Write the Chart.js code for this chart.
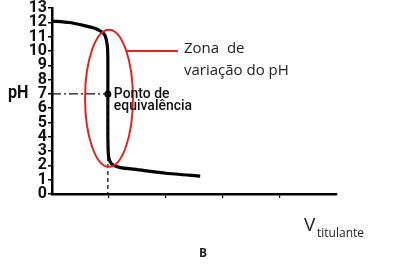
<!DOCTYPE html>
<html><head><meta charset="utf-8">
<script src="https://cdn.jsdelivr.net/npm/chart.js@4.4.1/dist/chart.umd.min.js"></script>
<style>html,body{margin:0;padding:0;background:#fff}#wrap{width:398px;height:265px}</style>
</head><body><div id="wrap"><canvas id="c"></canvas></div>
<script>
const volume = [0, 0.3, 0.55, 0.75, 0.87, 0.93, 0.97, 0.98, 0.98, 0.98, 0.99, 1.02, 1.08, 1.2, 1.5, 2.0, 2.6];
const pH     = [12.1, 12.0, 11.8, 11.6, 11.35, 11.1, 10.4, 9.5, 7.0, 4.0, 2.7, 2.25, 2.0, 1.85, 1.7, 1.45, 1.25];
const equivalence = {v: 0.98, pH: 7};
const yTicks = [0,1,2,3,4,5,6,7,8,9,10,11,12,13];
const xTicks = [1,2,3,4];
const zone = {v: 1.0, pH: 6.7, rv: 0.42, rpH: 4.8};
const zoneLabel = ["Zona  de", "variação do pH"];
const eqLabel = ["Ponto de", "equivalência"];

const curve = volume.map((v,i)=>({x:v, y:pH[i]}));

function narrowText(ctx, text, x, y, sx){
  ctx.save(); ctx.translate(x, y); ctx.scale(sx, 1); ctx.fillText(text, 0, 0); ctx.restore();
}

const overlay = {
  id:'overlay',
  afterDatasetsDraw(chart){
    const ctx = chart.ctx, xs = chart.scales.x, ys = chart.scales.y;
    const cx = xs.getPixelForValue(zone.v), cy = ys.getPixelForValue(zone.pH);
    const rx = xs.getPixelForValue(zone.v + zone.rv) - cx;
    const ry = ys.getPixelForValue(zone.pH) - ys.getPixelForValue(zone.pH + zone.rpH);
    ctx.save();
    ctx.strokeStyle = '#e3231f'; ctx.lineWidth = 2;
    ctx.beginPath(); ctx.ellipse(cx, cy, rx, ry, 0, 0, Math.PI*2); ctx.stroke();
    const ly = 51;
    const t = (ly - cy)/ry;
    const lx = cx + rx*Math.sqrt(1 - t*t);
    ctx.beginPath(); ctx.moveTo(lx, ly); ctx.lineTo(178, ly); ctx.stroke();
    ctx.fillStyle = '#222';
    ctx.font = '15px "Open Sans", "Liberation Sans", sans-serif';
    ctx.textBaseline = 'alphabetic'; ctx.textAlign = 'left';
    ctx.fillText(zoneLabel[0], 184, 53);
    ctx.fillText(zoneLabel[1], 184, 75);
    const ex = xs.getPixelForValue(equivalence.v), ey = ys.getPixelForValue(equivalence.pH);
    ctx.fillStyle = '#111';
    ctx.font = '500 15px Roboto, sans-serif';
    narrowText(ctx, eqLabel[0], ex + 6, ey + 4, 0.93);
    narrowText(ctx, eqLabel[1], ex + 6, ey + 16, 0.93);
    ctx.font = 'bold 18px Roboto, sans-serif';
    narrowText(ctx, 'pH', 8, 98, 0.9);
    ctx.font = '19px "Open Sans", "Liberation Sans", sans-serif';
    ctx.fillStyle = '#222';
    ctx.fillText('V', 304, 231);
    ctx.font = '12px "Open Sans", "Liberation Sans", sans-serif';
    ctx.fillText('titulante', 317, 237);
    ctx.font = 'bold 12px "Open Sans", "Liberation Sans", sans-serif';
    ctx.fillText('B', 199, 257);
    ctx.restore();
  }
};

new Chart(document.getElementById('c'), {
  type:'scatter',
  data:{datasets:[
    {data:[{x:0,y:equivalence.pH},{x:equivalence.v,y:equivalence.pH}], showLine:true, borderColor:'#111', borderWidth:1.3, borderDash:[9,3,2,3], pointRadius:0},
    {data:[{x:equivalence.v,y:equivalence.pH},{x:equivalence.v,y:0}], showLine:true, borderColor:'#111', borderWidth:1.3, borderDash:[4,3], pointRadius:0},
    {data:curve, showLine:true, borderColor:'#000', borderWidth:3.2, tension:0.2, pointRadius:0},
    {data:[{x:equivalence.v,y:equivalence.pH}], pointRadius:3.5, pointBackgroundColor:'#000', pointBorderWidth:0}
  ]},
  options:{
    responsive:true, maintainAspectRatio:false, animation:false,
    layout:{padding:{top:6,right:61,left:0,bottom:0}},
    plugins:{legend:{display:false}, tooltip:{enabled:false}},
    scales:{
      x:{type:'linear', min:0, max:5,
        afterBuildTicks(s){ s.ticks = xTicks.map(v=>({value:v})); },
        afterFit(s){ s.height = 71; },
        ticks:{display:false},
        grid:{drawOnChartArea:false, drawTicks:true, tickLength:4, color:'#000', lineWidth:1.2},
        border:{color:'#000', width:2.5}},
      y:{type:'linear', min:0, max:13,
        afterBuildTicks(s){ s.ticks = yTicks.map(v=>({value:v})); },
        afterFit(s){ s.width = 52; },
        ticks:{color:'#111', padding:1, autoSkip:false, font:{family:'Roboto, sans-serif', size:16, weight:'bold', lineHeight:0.9}},
        grid:{drawOnChartArea:false, drawTicks:true, tickLength:4, color:'#000', lineWidth:1.5},
        border:{color:'#000', width:2.5}}
    }
  },
  plugins:[overlay]
});
</script></body></html>
